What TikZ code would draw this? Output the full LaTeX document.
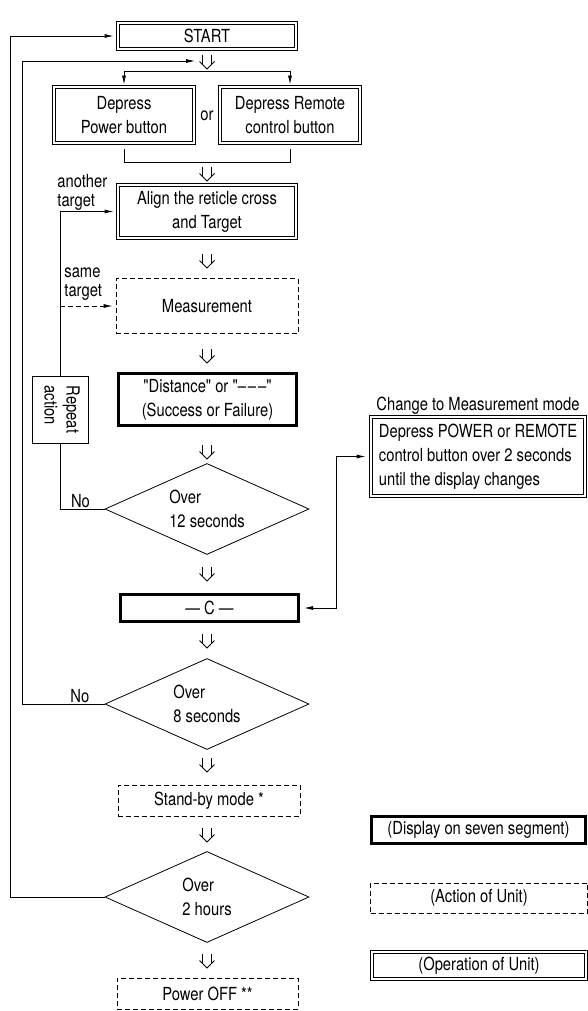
\documentclass[tikz,border=0pt]{standalone}
\usepackage{fontspec}
\usepackage{graphicx}
\setmainfont{TeX Gyre Heros}[FakeStretch=0.82, Ligatures=TeXOff]
\usetikzlibrary{arrows.meta,positioning,calc,shapes.geometric}

\begin{document}
\begin{tikzpicture}[
    x=1pt, y=-1pt, line width=0.8pt,
    >={Latex[length=9pt,width=4pt]},
    every node/.style={font=\fontsize{18}{24}\selectfont, inner sep=0pt},
    base/.style={draw, line width=0.8pt, align=center},
    opbox/.style={base, double, double distance=2.4pt},
    actbox/.style={base, dash pattern=on 5pt off 3pt},
    dispbox/.style={base, line width=3pt},
    decision/.style={base, shape=diamond, aspect=2.24, minimum width=204pt, minimum height=91pt, align=left},
    tag/.style={font=\fontsize{18}{19}\selectfont, align=left, anchor=north west},
    flowarr/.pic={
        \draw (-4.5,-7) -- (-4.5,3) (4.5,-7) -- (4.5,3);
        \draw (-7.5,-0.5) -- (0,7) -- (7.5,-0.5);
    }
]
\useasboundingbox (0,0) rectangle (588,1011);

\node[opbox, minimum width=178pt, minimum height=26pt] (start) at (207,36) {START};
\node[opbox, minimum width=140pt, minimum height=56pt] (pwr) at (124,115) {Depress\\Power button};
\node[opbox, minimum width=140pt, minimum height=56pt] (rem) at (290,115) {Depress Remote\\control button};
\node (or) at (207,116) {or};
\node[opbox, minimum width=178pt, minimum height=53pt] (align) at (207,211.5) {Align the reticle cross\\and Target};
\node[actbox, minimum width=182pt, minimum height=55pt] (meas) at (207,306) {Measurement};
\node[dispbox, minimum width=178pt, minimum height=52pt] (dist) at (207.5,399.5)
    {"Distance" or "\textendash\kern2pt\textendash\kern2pt\textendash"\\(Success or Failure)};
\node[draw, minimum width=56pt, minimum height=67pt] (rep) at (60,409.5)
    {\rotatebox{-90}{\fontsize{18}{22}\selectfont\begin{tabular}{@{}l@{}}Repeat\\action\end{tabular}}};
\node[decision] (d12) at (207,509) {Over\\12 seconds};
\node[dispbox, minimum width=178pt, minimum height=27pt] (cc) at (209.5,608) {\textemdash\ C \textemdash};
\node[decision] (d8) at (207,704) {Over\\8 seconds};
\node[actbox, minimum width=182pt, minimum height=31pt] (stby) at (209,800.5) {Stand-by mode *};
\node[decision] (d2h) at (207,897) {Over\\2 hours};
\node[actbox, minimum width=181pt, minimum height=31pt] (poff) at (207.5,993.5) {Power OFF **};

\node[opbox, minimum width=214pt, minimum height=79pt, align=left] (chg) at (478,456.5) {Depress POWER or REMOTE\\control button over 2 seconds\\until the display changes};
\node[above=2pt of chg] (chgtitle) {Change to Measurement mode};

\node[dispbox, minimum width=214pt, minimum height=27pt] (lgdisp) at (478.5,830) {(Display on seven segment)};
\node[actbox, minimum width=217pt, minimum height=30pt] (lgact) at (479,898) {(Action of Unit)};
\node[opbox, minimum width=214pt, minimum height=27pt] (lgop) at (479,965.5) {(Operation of Unit)};

\node[tag] (another) at (57,174) {another\\target};
\node[tag] (same) at (64,267) {same\\target};

\foreach \yy in {62,174,261,356,452,574,641,765,835,961}
    \pic at (207,\yy) {flowarr};

\coordinate (split) at (207,71);
\draw[->, shorten >=2pt] (split) -| (pwr.north);
\draw[->, shorten >=2pt] (split) -| (rem.north);
\draw ($(pwr.south)+(0,6)$) -- ++(0,13) -| ($(rem.south)+(0,6)$);

\draw[->, shorten >=4pt] (rep.north) |- (align.west);
\draw[->, shorten >=3pt, dash pattern=on 5pt off 3pt] (rep.north |- meas.west) -- (meas.west);
\draw (d12.west) -| node[pos=0.27, above=1pt] {No} (rep.south);

\coordinate (ret8) at (22,61);
\coordinate (in8) at (195,61);
\draw[->] (d8.west) -| node[pos=0.15, above=1pt] {No} (ret8) -- (in8);

\coordinate (ret2) at (10,36);
\draw[->, shorten >=4pt] (d2h.west) -| (ret2) -- (start.west);

\coordinate (bend) at (336,608);
\draw[<->, shorten <=5pt, shorten >=4pt] (chg.west) -| (bend) -- (cc.east);
\end{tikzpicture}
\end{document}
